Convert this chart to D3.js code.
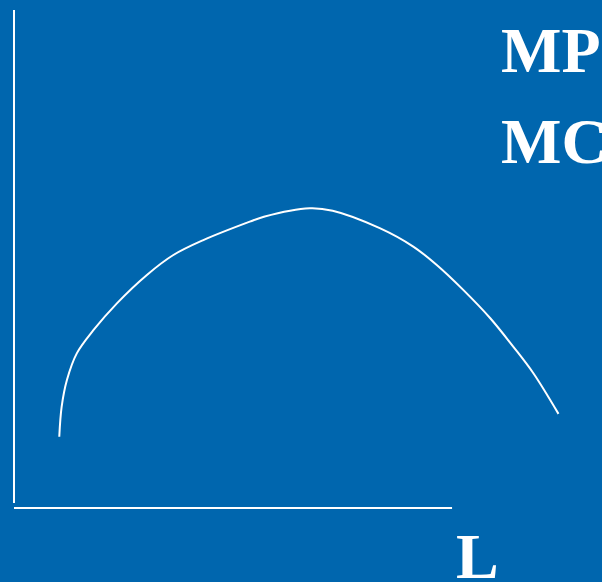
<!DOCTYPE html>
<html>
<head>
<meta charset="utf-8">
<script src="https://cdn.jsdelivr.net/npm/d3@7"></script>
<style>
  html, body { margin: 0; padding: 0; background: #0066ae; overflow: hidden; }
  svg { display: block; }
</style>
</head>
<body>
<div id="graph"></div>
<script>
// labour (L) vs marginal product (MP) / marginal cost (MC), arbitrary units
const labour = [7.7, 8.1, 9.0, 10.7, 13.5, 17.5, 22.6, 27.1, 32.2, 40.1, 42.5, 50.3, 54.2, 62.2, 67.9, 71.9, 76.4, 81.0, 84.9, 88.3, 92.6];
const mp     = [14.3, 20.3, 25.7, 31.1, 35.7, 41.1, 46.8, 50.8, 53.8, 57.5, 58.5, 60.2, 59.7, 56.2, 52.5, 48.8, 43.8, 38.1, 32.4, 27.1, 18.9];
const yLabels = ["MP", "MC"];
const xLabel = "L";

const width = 602;
const height = 582;
const margin = { top: 10, right: 0, bottom: 74, left: 14 };

const svg = d3.select("#graph").append("svg")
    .attr("width", width)
    .attr("height", height);

svg.append("rect")
    .attr("width", width)
    .attr("height", height)
    .attr("fill", "#0066ae");

const x = d3.scaleLinear()
    .domain([0, 100])
    .range([margin.left, width - margin.right]);

const y = d3.scaleLinear()
    .domain([0, 100])
    .range([height - margin.bottom, margin.top]);

// axes: plain white lines, no ticks
svg.append("line")
    .attr("x1", x(0)).attr("x2", x(0))
    .attr("y1", y(100)).attr("y2", y(1))
    .attr("stroke", "#fff")
    .attr("stroke-width", 2);

svg.append("line")
    .attr("x1", x(0)).attr("x2", x(74.5))
    .attr("y1", y(0)).attr("y2", y(0))
    .attr("stroke", "#fff")
    .attr("stroke-width", 2);

const lineGen = d3.line()
    .curve(d3.curveCatmullRom)
    .x(d => x(d[0]))
    .y(d => y(d[1]));

svg.append("path")
    .attr("d", lineGen(d3.zip(labour, mp)))
    .attr("fill", "none")
    .attr("stroke", "#fff")
    .attr("stroke-width", 2);

// labels
svg.selectAll(".ylab")
    .data(yLabels)
    .enter()
    .append("text")
    .attr("class", "ylab")
    .attr("x", 501)
    .attr("y", (d, i) => 72 + i * 91)
    .attr("font-family", "'Liberation Serif', 'Times New Roman', serif")
    .attr("font-weight", "bold")
    .attr("font-size", "64px")
    .attr("fill", "#fff")
    .text(d => d);

svg.append("text")
    .attr("x", 456)
    .attr("y", 578)
    .attr("font-family", "'Liberation Serif', 'Times New Roman', serif")
    .attr("font-weight", "bold")
    .attr("font-size", "64px")
    .attr("fill", "#fff")
    .text(xLabel);
</script>
</body>
</html>
